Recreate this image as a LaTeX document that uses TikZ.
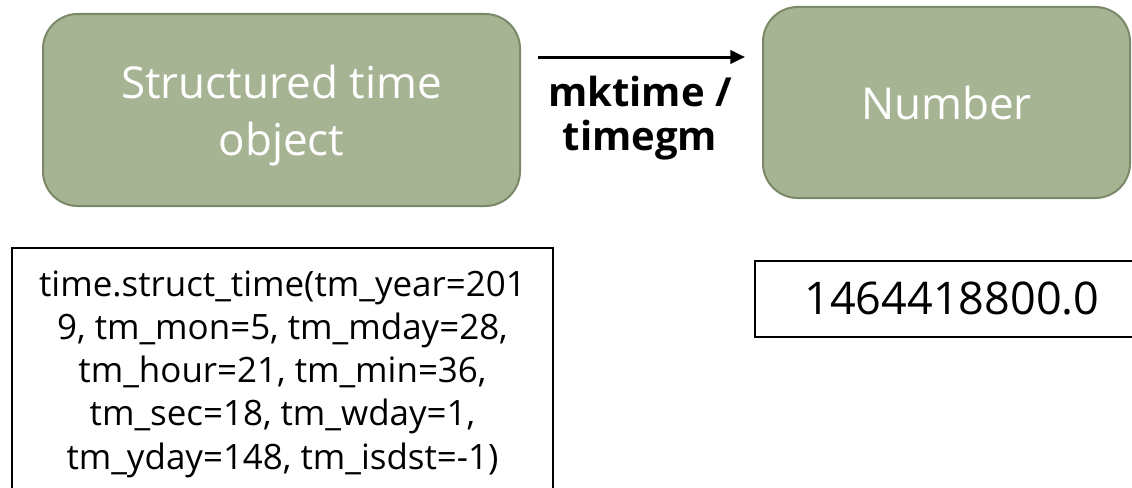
\documentclass[tikz,border=0pt]{standalone}
\usepackage{fontspec}
\setmainfont{Open Sans}
\usetikzlibrary{arrows.meta, positioning}
\definecolor{sageFill}{HTML}{A6B493}
\definecolor{sageEdge}{HTML}{7C8968}
\tikzset{
  greenbox/.style  = {draw=sageEdge, fill=sageFill, line width=1.5pt,
                      rounded corners=26pt, text=white, align=center, inner sep=0pt},
  valbox/.style    = {draw=black, line width=1.5pt, align=center, inner sep=0pt},
  convarrow/.style = {-{Triangle[length=11pt, width=10pt]}, line width=2.25pt, black},
  bigtxt/.style    = {font=\fontsize{33}{42.75}\selectfont},
  codetxt/.style   = {font=\fontsize{26.2}{32.4}\selectfont},
  lbl/.style       = {font=\bfseries\fontsize{30}{33}\selectfont, align=center},
}

\begin{document}
\begin{tikzpicture}[x=0.75pt,y=0.75pt]
  \useasboundingbox (0,0) rectangle (1132,487);
  \clip (0,0) rectangle (1132,487);
  % the two kinds of time value
  \node[greenbox, bigtxt, minimum width=357.75pt, minimum height=144pt]
    (structobj) at (281.5,377) {\rule{0pt}{34pt}Structured time\\object};
  \node[greenbox, bigtxt, minimum width=275.25pt, minimum height=143.25pt]
    (numobj) at (946.5,384.5) {Number};
  % conversion
  \coordinate (convS) at (538,430);
  \coordinate (convE) at (745,430);
  \draw[convarrow] (convS) -- (convE);
  \node[lbl] (convlbl) at (640,369) {mktime /\\timegm};
  % example values
  \node[valbox, codetxt, minimum width=405.75pt, minimum height=189pt]
    (structval) at (282.5,113) {time.struct\_time(tm\_year=201\\
      9, tm\_mon=5, tm\_mday=28,\\
      tm\_hour=21, tm\_min=36,\\
      tm\_sec=18, tm\_wday=1,\\
      tm\_yday=148, tm\_isdst=-1)};
  \node[valbox, minimum width=295.5pt, minimum height=57pt,
        font=\fontsize{33.75}{40}\selectfont]
    (numval) at (952,188) {1464418800.0};
\end{tikzpicture}
\end{document}
